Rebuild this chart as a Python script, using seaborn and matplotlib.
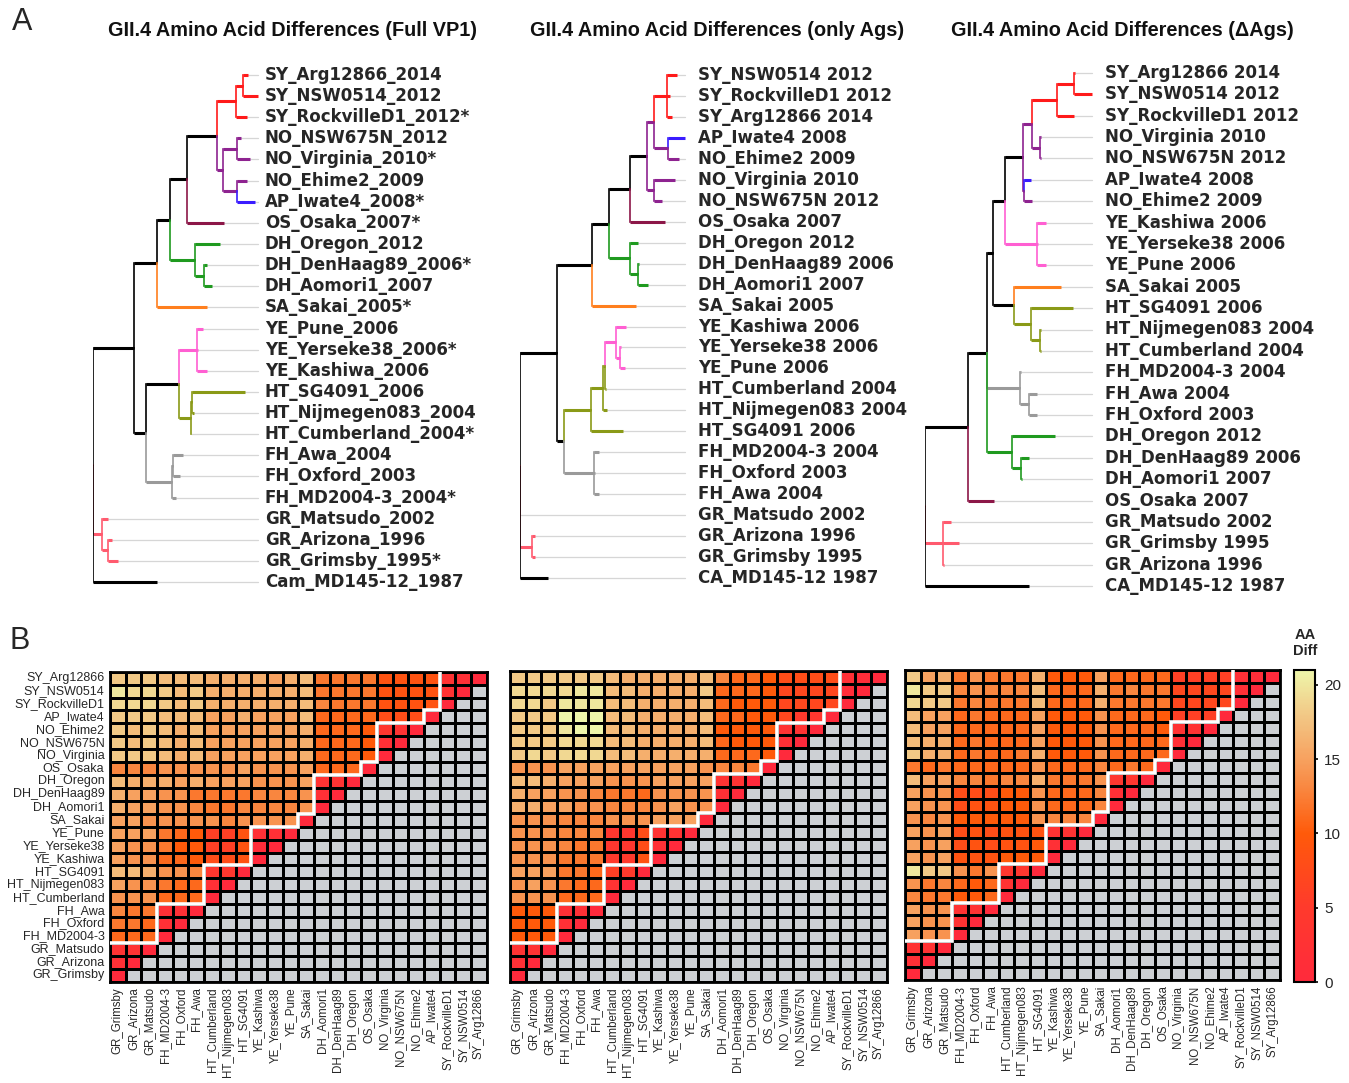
import matplotlib
matplotlib.use("Agg")
import matplotlib.pyplot as plt
import seaborn as sns
import numpy as np
import pandas as pd
from matplotlib import font_manager
from matplotlib.colors import LinearSegmentedColormap, ListedColormap

W, H = 1349, 1083

# ---- panel A: trees (newick, branch lengths) ----
TREE_FULL = (
    "((((((((SY_Arg12866_2014:5,SY_NSW0514_2012:15)SY:7,SY_RockvilleD1_2012*:11)SY:19,"
    "((NO_NSW675N_2012:4,NO_Virginia_2010*:13)NO:14,(NO_Ehime2_2009:10,AP_Iwate4_2008*:18)NO:14)NO:6):30,"
    "OS_Osaka_2007*:37):17,"
    "(DH_Oregon_2012:25,(DH_DenHaag89_2006*:3,DH_Aomori1_2007:8)DH:9)DH:25):13,"
    "SA_Sakai_2005*:50):23,"
    "(((YE_Pune_2006:6,YE_Yerseke38_2006*:1,YE_Kashiwa_2006:10)YE:18,"
    "((HT_SG4091_2006:53,HT_Nijmegen083_2004:2)HT:1,HT_Cumberland_2004*:0.5)HT:12):33,"
    "((FH_Awa_2004:10,FH_Oxford_2003:7)FH:1,FH_MD2004-3_2004*:4)FH:26):12):41,"
    "(GR_Matsudo_2002:6,(GR_Arizona_1996:4,GR_Grimsby_1995*:10)GR:6)GR:9.5,"
    "Cam_MD145-12_1987:64);"
)

TREE_AGS = (
    "((((((((SY_NSW0514 2012:10,SY_RockvilleD1 2012:3,SY_Arg12866 2014:5)SY:13,"
    "(AP_Iwate4 2008:17,NO_Ehime2 2009:11)NO:14)NO:7,(NO_Virginia 2010:21,NO_NSW675N 2012:8)NO:7):17,"
    "OS_Osaka 2007:35):21,"
    "(DH_Oregon 2012:8,(DH_DenHaag89 2006:0.5,DH_Aomori1 2007:10)DH:8)DH:21):17,"
    "SA_Sakai 2005:44):35,"
    "(((((YE_Kashiwa 2006:10,(YE_Yerseke38 2006:0.5,YE_Pune 2006:5)YE:4)YE:11,"
    "HT_Cumberland 2004:0.5)HT:2,HT_Nijmegen083 2004:4)HT:12,HT_SG4091 2006:32)HT:27,"
    "(FH_MD2004-3 2004:5,FH_Oxford 2003:0.5,FH_Awa 2004:5)FH:30):7):37,"
    "GR_Matsudo 2002:0,(GR_Arizona 1996:3,GR_Grimsby 1995:3)GR:12,"
    "CA_MD145-12 1987:28);"
)

TREE_DELTA = (
    "(((((((((SY_Arg12866 2014:0.5,SY_NSW0514 2012:18)SY:17,SY_RockvilleD1 2012:17)SY:25,"
    "(NO_Virginia 2010:0.5,NO_NSW675N 2012:0.5)NO:8)NO:9,"
    "(AP_Iwate4 2008:7,NO_Ehime2 2009:8)NO:0.5):18,"
    "(YE_Kashiwa 2006:9,YE_Yerseke38 2006:0.5,YE_Pune 2006:9)YE:32):12,"
    "(SA_Sakai 2005:47,(HT_SG4091 2006:42,(HT_Nijmegen083 2004:0.5,HT_Cumberland 2004:0.5)HT:9)HT:17):21):6,"
    "(FH_MD2004-3 2004:0.5,(FH_Awa 2004:8,FH_Oxford 2003:8)FH:9)FH:33,"
    "(DH_Oregon 2012:43,(DH_DenHaag89 2006:8,DH_Aomori1 2007:0.5)DH:9)DH:25):19,"
    "OS_Osaka 2007:26):43,"
    "(GR_Matsudo 2002:8,GR_Grimsby 1995:16,GR_Arizona 1996:0.5)GR:18,"
    "CA_MD145-12 1987:104);"
)

GROUP_COLORS = {"SY": "#ff1a1a", "NO": "#8e2390", "AP": "#3a1cff", "OS": "#8c1748",
                "DH": "#1f9a1f", "SA": "#ff7f1e", "YE": "#ff5fd2", "HT": "#8a9a17",
                "FH": "#9a9a9a", "GR": "#ff5a6e"}

TITLES = ["GII.4 Amino Acid Differences (Full VP1)",
          "GII.4 Amino Acid Differences (only Ags)",
          "GII.4 Amino Acid Differences (\u0394Ags)"]

# ---- panel B: pairwise amino-acid differences (upper-left triangle) ----
ROW_LABELS = ["SY_Arg12866", "SY_NSW0514", "SY_RockvilleD1", "AP_Iwate4", "NO_Ehime2",
              "NO_NSW675N", "NO_Virginia", "OS_Osaka", "DH_Oregon", "DH_DenHaag89",
              "DH_Aomori1", "SA_Sakai", "YE_Pune", "YE_Yerseke38", "YE_Kashiwa",
              "HT_SG4091", "HT_Nijmegen083", "HT_Cumberland", "FH_Awa", "FH_Oxford",
              "FH_MD2004-3", "GR_Matsudo", "GR_Arizona", "GR_Grimsby"]
COL_LABELS = ROW_LABELS[::-1]
GROUP_SIZES = [3, 1, 3, 1, 3, 1, 3, 3, 3, 3]  # SY AP NO OS DH SA YE HT FH GR

DIFF_FULL = [
    "18 18 18 17 17 17 16 16 16 16 15 16 17 12 12 12 12 9 9 9 9 3 2 0",
    "20 19 19 18 17 18 16 16 16 16 16 16 17 12 12 12 12 9 9 9 9 3 0",
    "19 19 19 18 17 18 16 16 16 16 16 16 17 13 12 12 12 9 9 9 9 0",
    "18 18 18 17 17 17 15 15 16 15 15 15 17 11 11 11 11 8 8 8 0",
    "18 17 18 17 16 17 15 15 15 15 15 15 16 11 11 11 10 4 3 0",
    "18 17 18 17 16 17 15 15 15 15 15 15 16 11 11 11 10 2 0",
    "18 18 18 17 16 17 15 15 15 15 15 15 16 11 11 11 10 0",
    "13 13 13 14 14 14 14 14 15 14 14 14 15 11 11 11 0",
    "17 16 16 16 15 16 15 15 15 14 14 14 15 3 3 0",
    "16 15 15 14 14 12 12 12 12 13 13 13 14 2 0",
    "16 15 15 14 14 13 12 12 13 13 13 13 14 0",
    "15 15 14 14 14 14 14 13 14 14 14 14 0",
    "15 15 15 12 11 10 6 6 9 2 2 0",
    "15 14 14 12 10 10 6 6 9 1 0",
    "15 14 14 11 11 10 8 8 9 0",
    "17 17 16 14 14 13 4 4 0",
    "15 14 14 12 11 11 2 0",
    "14 14 14 11 11 11 0",
    "13 12 12 2 2 0",
    "12 12 11 2 0",
    "11 11 11 0",
    "3 3 0",
    "2 0",
    "0",
]

DIFF_AGS = [
    "18 18 18 18 18 18 17 16 16 16 16 16 17 13 11 11 10 8 8 8 8 2 1 0",
    "19 19 19 19 20 20 17 17 16 16 16 16 18 11 11 11 10 7 7 7 7 1 0",
    "19 19 18 20 20 20 17 17 16 16 16 16 17 11 10 10 10 7 7 7 7 0",
    "18 18 18 21 21 21 17 17 16 16 16 16 17 11 11 10 10 7 5 4 0",
    "18 18 18 20 21 21 17 17 16 16 16 16 17 10 10 10 10 3 3 0",
    "18 18 18 19 19 19 17 17 16 16 16 16 17 11 10 10 10 2 0",
    "18 19 18 19 19 19 17 17 16 16 16 16 16 11 11 11 10 0",
    "14 14 14 15 15 15 15 15 15 15 15 15 14 13 13 12 0",
    "17 17 16 15 15 15 14 14 14 15 15 15 15 3 3 0",
    "16 15 15 14 14 13 12 12 11 14 14 14 14 2 0",
    "16 16 15 15 14 14 13 13 13 14 15 14 14 0",
    "14 14 14 13 13 13 14 14 14 15 15 15 0",
    "14 14 14 13 13 13 4 4 8 3 3 0",
    "14 14 14 13 12 12 4 4 8 2 0",
    "14 14 14 12 12 12 5 5 9 0",
    "15 15 15 12 12 11 6 5 0",
    "14 15 14 12 11 11 3 0",
    "14 14 14 11 11 11 0",
    "10 10 10 2 2 0",
    "10 10 10 2 0",
    "10 10 10 0",
    "3 3 0",
    "2 0",
    "0",
]

DIFF_DELTA = [
    "18 15 16 12 14 12 12 12 16 10 10 10 15 11 11 11 11 6 6 6 6 2 1 0",
    "20 18 18 13 14 13 13 13 17 11 11 11 16 12 13 12 12 7 7 7 7 2 0",
    "19 18 18 12 13 12 12 12 17 11 11 11 16 12 12 12 12 7 7 7 7 0",
    "17 15 15 11 12 11 11 11 15 10 10 10 14 11 11 11 10 6 6 6 0",
    "17 15 15 11 11 11 11 11 15 10 10 10 14 11 11 11 10 3 3 0",
    "17 16 16 11 12 11 11 11 15 10 10 10 14 11 11 11 11 2 0",
    "18 16 16 11 12 11 11 12 16 10 10 10 14 11 11 11 11 0",
    "12 11 12 11 11 11 11 11 14 11 11 11 13 11 12 11 0",
    "17 15 15 13 13 12 13 13 16 12 12 12 14 4 4 0",
    "15 14 14 8 8 8 10 10 14 11 11 11 13 2 0",
    "15 14 14 8 9 9 10 10 14 11 11 11 13 0",
    "14 13 14 10 10 10 10 10 14 13 13 13 0",
    "15 14 15 8 9 8 9 9 9 3 3 0",
    "15 14 15 8 9 8 9 9 10 2 0",
    "15 14 15 9 9 9 10 10 10 0",
    "20 18 18 14 12 14 4 4 0",
    "14 12 13 11 10 11 3 0",
    "13 12 12 10 10 11 0",
    "15 14 14 3 3 0",
    "15 14 14 3 0",
    "15 14 14 0",
    "3 3 0",
    "2 0",
    "0",
]


def has_font(name):
    try:
        font_manager.findfont(font_manager.FontProperties(family=name),
                              fallback_to_default=False)
        return True
    except Exception:
        return False


def parse_newick(s):
    pos = 0

    def node():
        nonlocal pos
        children = []
        if s[pos] == "(":
            pos += 1
            while True:
                children.append(node())
                if s[pos] == ",":
                    pos += 1
                else:
                    break
            pos += 1  # closing paren
        start = pos
        while s[pos] not in ":,);":
            pos += 1
        name = s[start:pos]
        length = 0.0
        if s[pos] == ":":
            pos += 1
            start = pos
            while s[pos] not in ",);":
                pos += 1
            length = float(s[start:pos])
        return {"name": name, "len": length, "children": children}

    return node()


def node_color(n):
    if n["children"]:
        return GROUP_COLORS.get(n["name"], "black")
    return GROUP_COLORS.get(n["name"].split("_")[0], "black")


def draw_tree(ax, newick, leader_end, label_x, width):
    root = parse_newick(newick)
    tips = []

    def layout(n, x0):
        n["x"] = x0 + n["len"]
        for c in n["children"]:
            layout(c, n["x"])
        if n["children"]:
            n["y"] = (n["children"][0]["y"] + n["children"][-1]["y"]) / 2
        else:
            n["y"] = len(tips)
            tips.append(n)

    layout(root, 0.0)

    def draw(n):
        for c in n["children"]:
            col = node_color(c)
            ax.plot([n["x"], n["x"]], [n["y"], c["y"]], color=col, lw=1.2,
                    solid_capstyle="projecting", zorder=3)
            ax.plot([n["x"], c["x"]], [c["y"], c["y"]], color=col, lw=2.2,
                    solid_capstyle="butt", zorder=3)
            draw(c)

    draw(root)
    for t in tips:
        ax.plot([t["x"], leader_end], [t["y"], t["y"]], color="#d6d6d6", lw=0.9, zorder=1)
        ax.text(label_x, t["y"], t["name"], fontsize=12, fontweight="bold",
                family=["DejaVu Sans"], va="center", ha="left")
    ax.set_xlim(0, width)
    ax.set_ylim(len(tips) - 0.5, -0.5)
    ax.axis("off")


def to_frame(rows):
    vals = np.full((len(ROW_LABELS), len(COL_LABELS)), np.nan)
    for r, line in enumerate(rows):
        nums = [float(v) for v in line.split()]
        vals[r, :len(nums)] = nums
    return pd.DataFrame(vals, index=ROW_LABELS, columns=COL_LABELS)


def step_line():
    n = len(ROW_LABELS)
    xs, ys = [], []
    start = 0
    for size in GROUP_SIZES:
        end = start + size
        xs += [n - end, n - end]
        ys += [start, end]
        start = end
    return xs[:-1], ys[:-1]


def draw_matrix(ax, rows, show_y, cax=None):
    df = to_frame(rows)
    empty = df.isna()
    sns.heatmap(pd.DataFrame(0.0, index=df.index, columns=df.columns), ax=ax,
                cmap=ListedColormap(["#cdd0d4"]), mask=~empty, cbar=False,
                linewidths=0.8, linecolor="black", xticklabels=True, yticklabels=show_y)
    sns.heatmap(df, ax=ax, cmap=AA_CMAP, vmin=0, vmax=21, mask=empty,
                cbar=cax is not None, cbar_ax=cax, linewidths=0.8, linecolor="black",
                xticklabels=True, yticklabels=show_y)
    xs, ys = step_line()
    ax.plot(xs, ys, color="white", lw=2.6, solid_joinstyle="miter", zorder=5)
    for sp in ax.spines.values():
        sp.set_visible(True)
        sp.set_linewidth(2.0)
        sp.set_color("black")
    ax.tick_params(axis="y", length=0, labelsize=9, pad=4, rotation=0)
    ax.tick_params(axis="x", length=0, labelsize=8.3, pad=4, rotation=90)
    if not show_y:
        ax.set_yticks([])
    ax.set_xlabel("")
    ax.set_ylabel("")


sns.set_theme(style="white")
plt.rcParams["font.family"] = ["Liberation Sans", "DejaVu Sans"]

if has_font("Liberation Sans Narrow"):
    title_family, title_size = ["Liberation Sans Narrow", "DejaVu Sans"], 16.5
else:
    title_family, title_size = ["Liberation Sans", "DejaVu Sans"], 14.3

AA_CMAP = LinearSegmentedColormap.from_list(
    "aadiff", [(0.0, "#ff2a3c"), (5 / 21, "#ff3a2c"), (10 / 21, "#ff5a0a"),
               (13 / 21, "#f9863f"), (15 / 21, "#f7a15f"), (18 / 21, "#f2c886"),
               (1.0, "#eef6aa")])

fig = plt.figure(figsize=(W / 100, H / 100), dpi=100)


def px_axes(left, top, right, bottom):
    return fig.add_axes([left / W, 1 - bottom / H, (right - left) / W, (bottom - top) / H])


# trees
ax1 = px_axes(92.7, 64.4, 492.7, 592.6)
draw_tree(ax1, TREE_FULL, 165, 172, 400)
ax2 = px_axes(520, 64.5, 920, 588.5)
draw_tree(ax2, TREE_AGS, 165, 178, 400)
ax3 = px_axes(925, 62.3, 1345, 596.7)
draw_tree(ax3, TREE_DELTA, 167, 180, 420)

for cx, title in zip([293, 717, 1122], TITLES):
    fig.text(cx / W, 1 - 30 / H, title, ha="center", va="center", fontsize=title_size,
             fontweight="bold", family=title_family, color="#111111")

fig.text(12 / W, 1 - 22 / H, "A", fontsize=22, va="center", ha="left")
fig.text(10 / W, 1 - 641 / H, "B", fontsize=22, va="center", ha="left")

# heatmaps
hm1 = px_axes(110, 671.7, 486.7, 981.7)
draw_matrix(hm1, DIFF_FULL, True)
hm2 = px_axes(510, 670.7, 886.7, 981.5)
draw_matrix(hm2, DIFF_AGS, False)
hm3 = px_axes(905, 670, 1280, 980)
cax = px_axes(1294, 670, 1315, 982)
draw_matrix(hm3, DIFF_DELTA, False, cax=cax)

cb = hm3.collections[-1].colorbar
cb.set_ticks([0, 5, 10, 15, 20])
cb.outline.set_linewidth(1.5)
cb.outline.set_edgecolor("black")
cax.tick_params(labelsize=11, length=5, width=1.2, direction="inout", pad=4, color="black")
fig.text(1305 / W, 1 - 643 / H, "AA\nDiff", ha="center", va="center", fontsize=10.5,
         fontweight="bold", linespacing=1.1)

fig.savefig("out.png", dpi=100)
